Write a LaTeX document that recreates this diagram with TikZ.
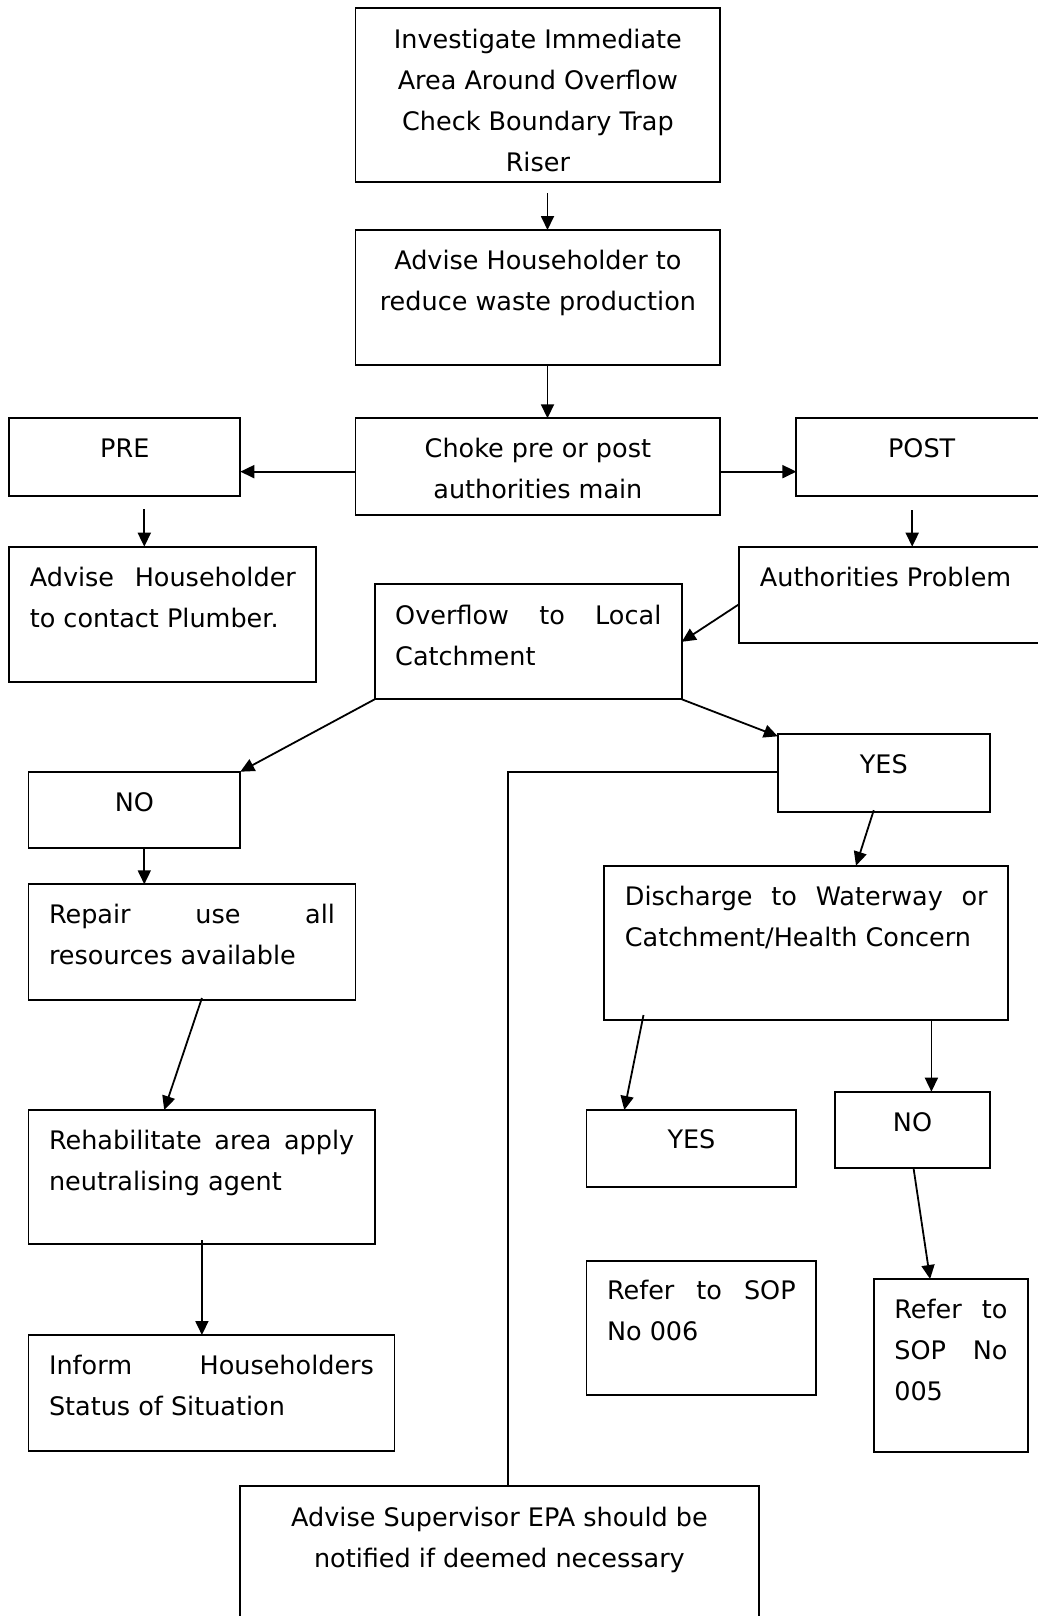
\documentclass[tikz,border=0pt]{standalone}
\usepackage{fontspec}
\setmainfont{DejaVu Sans}
\usetikzlibrary{calc,arrows.meta}

% horizontal padding inside a box and the usable text width
\newlength\cardpad \setlength\cardpad{20.5pt}
\newlength\cardtw

% box body: #1 width, #2 height, #3 first baseline, #4 text lines
\newcommand\leftbody[4]{%
  \begin{minipage}[c][#2][t]{#1}%
  \setlength\cardtw{\dimexpr#1-2\cardpad\relax}%
  \fontsize{25.5pt}{41pt}\selectfont
  \leftskip=\cardpad \rightskip=\cardpad \parindent=0pt
  \parfillskip=0pt plus 1fil
  \rule{0pt}{#3}#4\par
  \end{minipage}}
\newcommand\midbody[4]{%
  \begin{minipage}[c][#2][t]{#1}%
  \fontsize{25.5pt}{41pt}\selectfont\centering
  \rule{0pt}{#3}#4\par
  \end{minipage}}
% a justified line spread over the full text width
\newcommand\jl[1]{\makebox[\cardtw][s]{#1}}

\tikzset{
  card/.style={draw, line width=1.9pt, inner sep=0pt, outer sep=0pt, anchor=north west},
  arr/.style={line width=1.8pt, -{Triangle[length=14pt,width=13pt]}},
  link/.style={line width=1.8pt}
}

\begin{document}
\begin{tikzpicture}[x=1pt, y=-1pt]
\useasboundingbox (0,0) rectangle (1038,1616);
\clip (0,0) rectangle (1038,1616);

% ---- boxes ----
\node[card] (inv) at (355.5,8.3)
  {\midbody{364.8pt}{173.4pt}{40pt}{Investigate Immediate\\Area Around Overflow\\Check Boundary Trap\\Riser}};
\node[card] (adv) at (355.5,230)
  {\midbody{364.8pt}{135pt}{39.5pt}{Advise Householder to\\reduce waste production}};
\node[card] (choke) at (355.5,418.3)
  {\midbody{364.8pt}{96.7pt}{39.5pt}{Choke pre or post\\authorities main}};
\node[card] (pre) at (9.3,418.3)
  {\midbody{231pt}{77.4pt}{39.5pt}{PRE}};
\node[card] (post) at (796.4,418.3)
  {\midbody{250.6pt}{77.4pt}{39.5pt}{POST}};
\node[card] (plumb) at (9.3,546.7)
  {\leftbody{307.1pt}{135pt}{39.5pt}{\jl{Advise Householder}\\to contact Plumber.}};
\node[card] (auth) at (739.4,546.7)
  {\leftbody{310pt}{96.6pt}{39.5pt}{Authorities Problem}};
\node[card] (overflow) at (374.7,584.3)
  {\leftbody{307.1pt}{115pt}{39.7pt}{\jl{Overflow to Local}\\Catchment}};
\node[card] (no1) at (28.5,771.7)
  {\midbody{211.8pt}{76.6pt}{39.5pt}{NO}};
\node[card] (repair) at (28.5,884.3)
  {\leftbody{327pt}{115.7pt}{39.5pt}{\jl{Repair use all}\\resources available}};
\node[card] (rehab) at (28.5,1110)
  {\leftbody{346.2pt}{134.3pt}{39.5pt}{\jl{Rehabilitate area apply}\\neutralising agent}};
\node[card] (inform) at (28.5,1335)
  {\leftbody{366pt}{115.7pt}{39.5pt}{\jl{Inform Householders}\\Status of Situation}};
\node[card] (yes1) at (777.8,734.3)
  {\midbody{211.9pt}{77.4pt}{39.5pt}{YES}};
\node[card] (disch) at (604.4,865.7)
  {\leftbody{403.8pt}{154.3pt}{39.5pt}{\jl{Discharge to Waterway or}\\Catchment/Health Concern}};
\node[card] (yes2) at (586.5,1110)
  {\midbody{209.9pt}{76.7pt}{38.5pt}{YES}};
\node[card] (no2) at (835.4,1091.7)
  {\midbody{154.3pt}{76.6pt}{40pt}{NO}};
\node[card] (ref006) at (586.5,1260.7)
  {\leftbody{229.7pt}{134.3pt}{38.8pt}{\jl{Refer to SOP}\\No 006}};
\node[card] (ref005) at (873.8,1279)
  {\leftbody{154.2pt}{172.7pt}{39.3pt}{\jl{Refer to}\\\jl{SOP No}\\005}};
\node[card] (sup) at (239.6,1485.7)
  {\midbody{519.7pt}{160pt}{40.3pt}{Advise Supervisor EPA should be\\notified if deemed necessary}};

% ---- connector end points ----
\coordinate (a1) at ($(inv.south)+(9.6,11.6)$);
\coordinate (a2) at ($(adv.south)+(9.6,0)$);
\coordinate (a3) at ($(choke.west)+(0,5)$);
\coordinate (a4) at ($(choke.east)+(0,5)$);
\coordinate (a5) at ($(pre.south)+(19.5,13.3)$);
\coordinate (a6) at ($(post.south)+(-9.5,14.3)$);
\coordinate (a7) at ($(no1.south)+(9.9,0)$);
\coordinate (a8) at ($(disch.south)+(125.1,0)$);
\coordinate (a9) at ($(rehab.south)+(0.3,-4)$);
\coordinate (s1) at ($(sup.north)+(8.9,0)$);

% ---- connectors ----
\draw[arr] (a1) -- (a1 |- adv.north);
\draw[arr] (a2) -- (a2 |- choke.north);
\draw[arr] (a3) -- (a3 -| pre.east);
\draw[arr] (a4) -- (a4 -| post.west);
\draw[arr] (a5) -- (a5 |- plumb.north);
\draw[arr] (a6) -- (a6 |- auth.north);
\draw[arr] ($(auth.west)+(0,9)$) -- (overflow.east);
\draw[arr] (overflow.south west) -- (no1.north east);
\draw[arr] (overflow.south east) -- ($(yes1.north west)+(0,2)$);
\draw[link] ($(yes1.west)+(0,-1.3)$) -| (s1);
\draw[arr] (a7) -- (a7 |- repair.north);
\draw[arr] ($(repair.south)+(9.9,-2)$) -- ($(rehab.north)+(-37.4,0)$);
\draw[arr] (a9) -- (a9 |- inform.north);
\draw[arr] ($(yes1.south)+(-10,-1.5)$) -- ($(disch.north)+(49.7,0)$);
\draw[arr] ($(disch.south west)+(39.1,-5)$) -- ($(yes2.north west)+(37.8,0)$);
\draw[arr] (a8) -- (a8 |- no2.north);
\draw[arr] ($(no2.south)+(1,0)$) -- ($(ref005.north)+(-20.8,0)$);
\end{tikzpicture}
\end{document}
